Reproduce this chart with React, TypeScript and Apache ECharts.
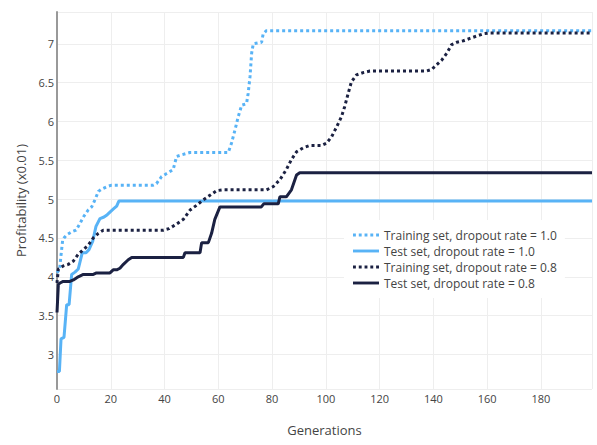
import React, { useEffect, useRef } from "react";
import * as echarts from "echarts";

// Breakpoints (generation, profitability x0.01)
const trainGen10 = [0, 1, 1.4, 2.1, 2.6, 3.6, 5.5, 7.1, 8.6, 9.8, 11.6, 12.9, 14.1, 15.4, 16.6, 18.5, 20.3, 35.8, 37, 38.9, 40.8, 43.2, 44.5, 46.3, 49.4, 63.7, 64.9, 66.2, 67.4, 68.7, 70.5, 71.1, 71.8, 72.4, 73.0, 76.1, 76.7, 77.9, 199];
const trainVal10 = [4.05, 4.1, 4.25, 4.47, 4.5, 4.54, 4.58, 4.6, 4.69, 4.77, 4.86, 4.9, 4.99, 5.1, 5.13, 5.16, 5.18, 5.18, 5.2, 5.29, 5.33, 5.38, 5.55, 5.57, 5.6, 5.6, 5.72, 5.89, 6.06, 6.21, 6.23, 6.36, 6.58, 6.88, 7.0, 7.02, 7.13, 7.17, 7.17];

const testGen10 = [0, 0.9, 1.5, 2.6, 3.6, 4.5, 5.45, 6.7, 7.9, 9.4, 10.8, 11.9, 13.3, 14.5, 16.0, 17.5, 18.7, 19.9, 21.2, 22.2, 23.0, 199];
const testVal10 = [2.78, 2.78, 3.2, 3.22, 3.64, 3.64, 4.03, 4.06, 4.1, 4.31, 4.31, 4.35, 4.46, 4.65, 4.75, 4.77, 4.8, 4.84, 4.88, 4.91, 4.975, 4.975];

const trainGen08 = [0, 0.5, 2.3, 4.2, 6.0, 7.9, 9.8, 11.7, 13.5, 15.4, 17.2, 19.1, 39.5, 41.7, 44.5, 47.0, 49.5, 51.9, 54.4, 56.9, 59.4, 61.8, 77.9, 80.4, 82.9, 85.3, 87.2, 89.1, 91.5, 94.0, 98.4, 100.2, 102.1, 104.0, 105.8, 107.0, 108.3, 109.5, 111.4, 113.9, 116.4, 137.5, 139.4, 141.2, 143.1, 145.0, 146.8, 148.7, 151.2, 153.6, 156.1, 158.6, 161.1, 199];
const trainVal08 = [3.92, 4.1, 4.14, 4.16, 4.2, 4.29, 4.35, 4.41, 4.5, 4.56, 4.6, 4.6, 4.6, 4.62, 4.68, 4.74, 4.86, 4.92, 4.99, 5.05, 5.11, 5.12, 5.12, 5.16, 5.25, 5.38, 5.51, 5.61, 5.66, 5.69, 5.69, 5.72, 5.8, 5.93, 6.06, 6.19, 6.36, 6.51, 6.6, 6.63, 6.65, 6.65, 6.67, 6.73, 6.79, 6.88, 6.99, 7.02, 7.04, 7.07, 7.1, 7.13, 7.14, 7.14];

const testGen08 = [0, 0.5, 1.1, 2.3, 4.8, 6.1, 7.9, 9.8, 13.5, 14.7, 19.7, 20.9, 22.2, 23.4, 24.7, 26.5, 27.8, 47.0, 47.6, 53.2, 53.8, 56.3, 57.5, 58.7, 60.6, 76.0, 76.9, 82.3, 82.9, 85.3, 87.2, 89.1, 90.3, 199];
const testVal08 = [3.54, 3.9, 3.92, 3.94, 3.94, 3.96, 4.0, 4.03, 4.03, 4.05, 4.05, 4.09, 4.09, 4.11, 4.16, 4.22, 4.25, 4.25, 4.31, 4.31, 4.44, 4.44, 4.56, 4.74, 4.9, 4.9, 4.94, 4.94, 5.03, 5.03, 5.12, 5.31, 5.34, 5.34];

const seriesNames = [
  "Training set, dropout rate = 1.0",
  "Test set, dropout rate = 1.0",
  "Training set, dropout rate = 0.8",
  "Test set, dropout rate = 0.8",
];

const LIGHT = "#58b3f6";
const DARK = "#1b2142";
const FONT = "'Open Sans', 'Noto Sans', sans-serif";

const DOT_ICON = "path://M0,0h3v3h-3z M6,0h3v3h-3z M12,0h3v3h-3z M18,0h3v3h-3z M24,0h3v3h-3z";
const SOLID_ICON = "path://M0,0h27v3h-27z";

const pairs = (g: number[], v: number[]) => g.map((x, i) => [x, v[i]]);

export default function App() {
  const ref = useRef<HTMLDivElement>(null);
  useEffect(() => {
    if (!ref.current) return;
    const chart = echarts.init(ref.current, undefined, { renderer: "svg" });
    const mk = (name: string, data: number[][], color: string, dotted: boolean) => ({
      name,
      type: "line",
      data,
      showSymbol: false,
      symbol: "none",
      color,
      itemStyle: { color },
      lineStyle: { color, width: 3, type: dotted ? [3, 3] : "solid" },
      z: 2,
    });
    chart.setOption({
      animation: false,
      backgroundColor: "#fff",
      textStyle: { fontFamily: FONT },
      grid: { left: 57, right: 5, top: 12, bottom: 56, containLabel: false },
      legend: {
        orient: "vertical",
        left: 344,
        top: 220,
        padding: [8, 8, 8, 9],
        itemWidth: 26,
        itemHeight: 3,
        itemGap: 2,
        backgroundColor: "#fff",
        textStyle: { fontFamily: FONT, fontSize: 12, color: "#444", lineHeight: 14 },
        data: [
          { name: seriesNames[0], icon: DOT_ICON },
          { name: seriesNames[1], icon: SOLID_ICON },
          { name: seriesNames[2], icon: DOT_ICON },
          { name: seriesNames[3], icon: SOLID_ICON },
        ],
      },
      xAxis: {
        type: "value",
        min: 0,
        max: 199,
        interval: 20,
        name: "Generations",
        nameLocation: "middle",
        nameGap: 34,
        nameTextStyle: { fontFamily: FONT, fontSize: 13, color: "#444" },
        axisLine: { show: false },
        axisTick: { show: false },
        axisLabel: {
          fontFamily: FONT,
          fontSize: 11,
          color: "#444",
          margin: 4,
          formatter: (v: number) => (v % 20 === 0 ? String(v) : ""),
        },
        splitLine: { show: true, lineStyle: { color: "#eee", width: 1 } },
      },
      yAxis: {
        type: "value",
        min: 2.555,
        max: 7.41,
        splitNumber: 10,
        name: "Profitability (x0.01)",
        nameLocation: "middle",
        nameGap: 30,
        nameTextStyle: { fontFamily: FONT, fontSize: 13, color: "#444" },
        axisLine: { show: true, onZero: false, lineStyle: { color: "#999", width: 2 } },
        axisTick: { show: false },
        axisLabel: {
          fontFamily: FONT,
          fontSize: 11,
          color: "#444",
          margin: 3,
          formatter: (v: number) => {
            const r = Math.round(v * 2) / 2;
            return Math.abs(r - v) < 1e-6 ? String(r) : "";
          },
        },
        splitLine: { show: true, lineStyle: { color: "#eee", width: 1 } },
      },
      series: [
        mk(seriesNames[0], pairs(trainGen10, trainVal10), LIGHT, true),
        mk(seriesNames[1], pairs(testGen10, testVal10), LIGHT, false),
        mk(seriesNames[2], pairs(trainGen08, trainVal08), DARK, true),
        mk(seriesNames[3], pairs(testGen08, testVal08), DARK, false),
      ],
    });
    return () => chart.dispose();
  }, []);
  return <div ref={ref} style={{ width: 597, height: 445, position: "absolute", left: 0, top: 0 }} />;
}
